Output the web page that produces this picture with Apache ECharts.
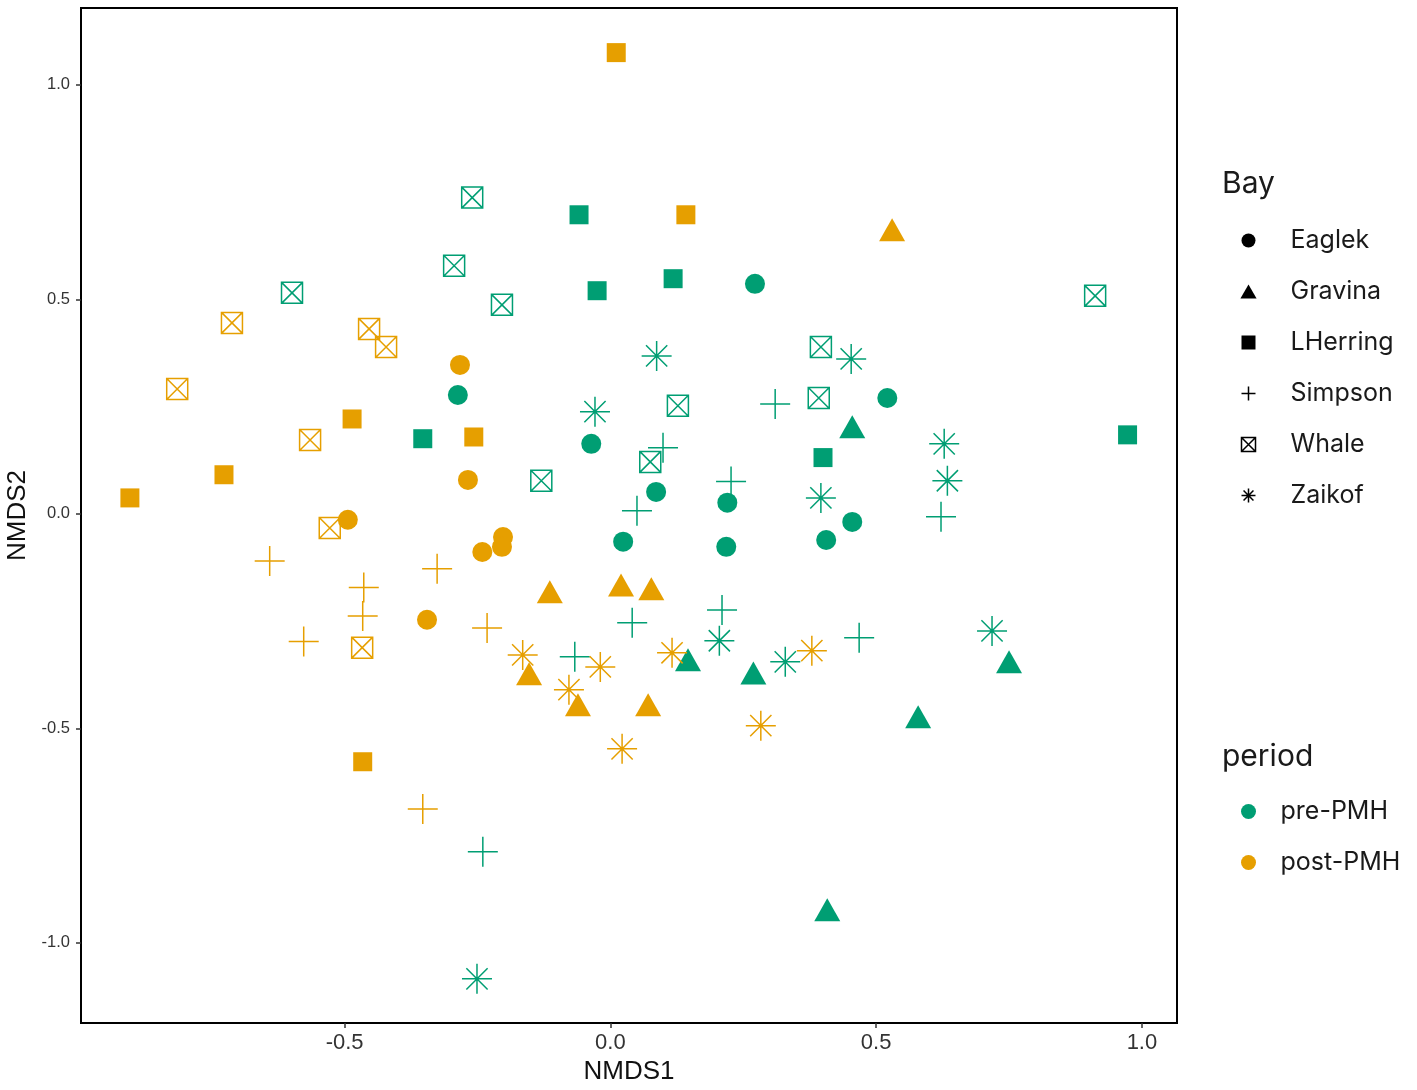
<!DOCTYPE html>
<html>
<head>
<meta charset="utf-8">
<script src="https://cdn.jsdelivr.net/npm/echarts@6/dist/echarts.min.js"></script>
<style>
  html, body { margin: 0; padding: 0; background: #fff; }
  #chart { width: 1417px; height: 1090px; }
</style>
</head>
<body>
<div id="chart"></div>
<script>
// NMDS scores: [NMDS1, NMDS2]
const eaglekPre = [[0.272, 0.536], [-0.287, 0.277], [0.521, 0.270], [-0.036, 0.163], [0.086, 0.051],
    [0.220, 0.026], [0.024, -0.065], [0.218, -0.077], [0.406, -0.061], [0.455, -0.019]];
const eaglekPost = [[-0.283, 0.347], [-0.268, 0.079], [-0.494, -0.014], [-0.202, -0.054],
    [-0.204, -0.077], [-0.241, -0.089], [-0.345, -0.247]];

const gravinaPre = [[0.455, 0.203], [0.146, -0.340], [0.269, -0.371], [0.750, -0.345],
    [0.579, -0.473], [0.408, -0.923]];
const gravinaPost = [[0.530, 0.662], [-0.114, -0.182], [0.020, -0.166], [0.077, -0.175],
    [-0.153, -0.373], [-0.061, -0.445], [0.071, -0.445]];

const lherringPre = [[-0.059, 0.697], [-0.025, 0.520], [0.118, 0.548], [-0.353, 0.175],
    [0.400, 0.131], [0.973, 0.184]];
const lherringPost = [[0.011, 1.075], [0.142, 0.697], [-0.486, 0.221], [-0.257, 0.179],
    [-0.727, 0.091], [-0.904, 0.037], [-0.466, -0.578]];

const simpsonPre = [[0.310, 0.256], [0.099, 0.154], [0.227, 0.075], [0.050, 0.007], [0.622, -0.007],
    [0.210, -0.224], [0.041, -0.254], [-0.067, -0.333], [0.468, -0.289], [-0.240, -0.788]];
const simpsonPost = [[-0.641, -0.110], [-0.464, -0.172], [-0.466, -0.238], [-0.326, -0.128],
    [-0.577, -0.298], [-0.232, -0.266], [-0.353, -0.688]];

const whalePre = [[-0.260, 0.737], [-0.294, 0.578], [-0.599, 0.515], [-0.204, 0.487], [0.396, 0.389],
    [0.392, 0.270], [0.127, 0.252], [0.075, 0.121], [-0.130, 0.077], [0.912, 0.508]];
const whalePost = [[-0.712, 0.445], [-0.454, 0.431], [-0.422, 0.389], [-0.815, 0.291],
    [-0.565, 0.172], [-0.528, -0.033], [-0.467, -0.312]];

const zaikofPre = [[0.087, 0.368], [-0.029, 0.238], [0.453, 0.361], [0.628, 0.163], [0.634, 0.077],
    [0.396, 0.037], [0.205, -0.296], [0.329, -0.345], [0.718, -0.273], [-0.251, -1.084]];
const zaikofPost = [[-0.165, -0.329], [-0.019, -0.357], [-0.078, -0.410], [0.116, -0.324],
    [0.022, -0.548], [0.379, -0.319], [0.283, -0.494]];

const bays = ['Eaglek', 'Gravina', 'LHerring', 'Simpson', 'Whale', 'Zaikof'];
const periods = ['pre-PMH', 'post-PMH'];
const xTicks = [-0.5, 0.0, 0.5, 1.0];
const yTicks = [-1.0, -0.5, 0.0, 0.5, 1.0];

const PERIOD_COLOR = { 'pre-PMH': '#009E73', 'post-PMH': '#E69F00' };

// ggplot shapes 16, 17, 15, 3, 7, 8
const BAY_SHAPE = {
    Eaglek:   { symbol: 'circle', size: 20, filled: true },
    Gravina:  { symbol: 'path://M50,0L100,86.6L0,86.6Z', size: [26, 23], filled: true },
    LHerring: { symbol: 'path://M0,0H100V100H0Z', size: 19, filled: true },
    Simpson:  { symbol: 'path://M50,0V100M0,50H100', size: 30, filled: false },
    Whale:    { symbol: 'path://M0,0H100V100H0ZM0,0L100,100M100,0L0,100', size: 21, filled: false },
    Zaikof:   { symbol: 'path://M50,0V100M0,50H100M14.6,14.6L85.4,85.4M85.4,14.6L14.6,85.4', size: 30, filled: false },
};

const POINTS = {
    Eaglek:   { 'pre-PMH': eaglekPre,   'post-PMH': eaglekPost },
    Gravina:  { 'pre-PMH': gravinaPre,  'post-PMH': gravinaPost },
    LHerring: { 'pre-PMH': lherringPre, 'post-PMH': lherringPost },
    Simpson:  { 'pre-PMH': simpsonPre,  'post-PMH': simpsonPost },
    Whale:    { 'pre-PMH': whalePre,    'post-PMH': whalePost },
    Zaikof:   { 'pre-PMH': zaikofPre,   'post-PMH': zaikofPost },
};

function shapeStyle(shape, color) {
    return shape.filled
        ? { color: color, borderWidth: 0, opacity: 1 }
        : { color: 'none', borderColor: color, borderWidth: 1.5, opacity: 1 };
}

const series = [];
bays.forEach(bay => {
    const shape = BAY_SHAPE[bay];
    periods.forEach(p => {
        series.push({
            name: bay + ' ' + p,
            type: 'scatter',
            silent: true,
            symbol: shape.symbol,
            symbolSize: shape.size,
            itemStyle: shapeStyle(shape, PERIOD_COLOR[p]),
            data: POINTS[bay][p],
        });
    });
});

// empty series that only feed the two legends
bays.forEach(bay => {
    const shape = BAY_SHAPE[bay];
    series.push({ name: bay, type: 'scatter', symbol: shape.symbol, itemStyle: shapeStyle(shape, '#000'), data: [] });
});
periods.forEach(p => {
    series.push({ name: p, type: 'scatter', symbol: 'circle', itemStyle: { color: PERIOD_COLOR[p], opacity: 1 }, data: [] });
});

const legendFont = 'Inter, "Noto Sans", sans-serif';
const legendText = { fontFamily: legendFont, fontSize: 25, color: '#1a1a1a', lineHeight: 24 };
const axisFont = '"Liberation Sans", Arial, sans-serif';
const fmt = v => v.toFixed(1);

const chart = echarts.init(document.getElementById('chart'), null, { renderer: 'canvas' });
chart.setOption({
    animation: false,
    backgroundColor: '#fff',
    grid: {
        left: 81, right: 240, top: 8, bottom: 67,
        outerBoundsMode: 'none',
        show: true, borderColor: '#000', borderWidth: 2, backgroundColor: 'transparent'
    },
    xAxis: {
        type: 'value',
        min: -0.996,
        max: 1.066,
        name: 'NMDS1',
        nameLocation: 'middle',
        nameGap: 35,
        nameTextStyle: { fontFamily: axisFont, fontSize: 26, color: '#111' },
        axisLine: { show: false, onZero: false },
        splitLine: { show: false },
        axisTick: { show: true, length: 5, customValues: xTicks, lineStyle: { color: '#333', width: 1.5 } },
        axisLabel: { customValues: xTicks, formatter: fmt, margin: 9, fontFamily: axisFont, fontSize: 22, color: '#333' },
    },
    yAxis: {
        type: 'value',
        min: -1.187,
        max: 1.179,
        name: 'NMDS2',
        nameLocation: 'middle',
        nameGap: 48,
        nameTextStyle: { fontFamily: axisFont, fontSize: 26, color: '#111' },
        axisLine: { show: false, onZero: false },
        splitLine: { show: false },
        axisTick: { show: true, length: 5, customValues: yTicks, lineStyle: { color: '#333', width: 1.5 } },
        axisLabel: { customValues: yTicks, formatter: fmt, margin: 11, fontFamily: axisFont, fontSize: 16.5, color: '#333' },
    },
    legend: [
        {
            orient: 'vertical',
            left: 1234,
            top: 223,
            itemWidth: 74,
            itemHeight: 14,
            itemGap: 26,
            selectedMode: false,
            textStyle: legendText,
            data: bays.map(b => ({ name: b, itemStyle: shapeStyle(BAY_SHAPE[b], '#000') })),
        },
        {
            orient: 'vertical',
            left: 1236,
            top: 794,
            itemWidth: 54,
            itemHeight: 15,
            itemGap: 26,
            selectedMode: false,
            textStyle: legendText,
            data: periods,
        },
    ],
    graphic: [
        { type: 'text', left: 1222, top: 169, style: { text: 'Bay', fontFamily: legendFont, fontSize: 30, fill: '#1a1a1a' } },
        { type: 'text', left: 1222, top: 742, style: { text: 'period', fontFamily: legendFont, fontSize: 30, fill: '#1a1a1a' } },
    ],
    series: series,
});
</script>
</body>
</html>
